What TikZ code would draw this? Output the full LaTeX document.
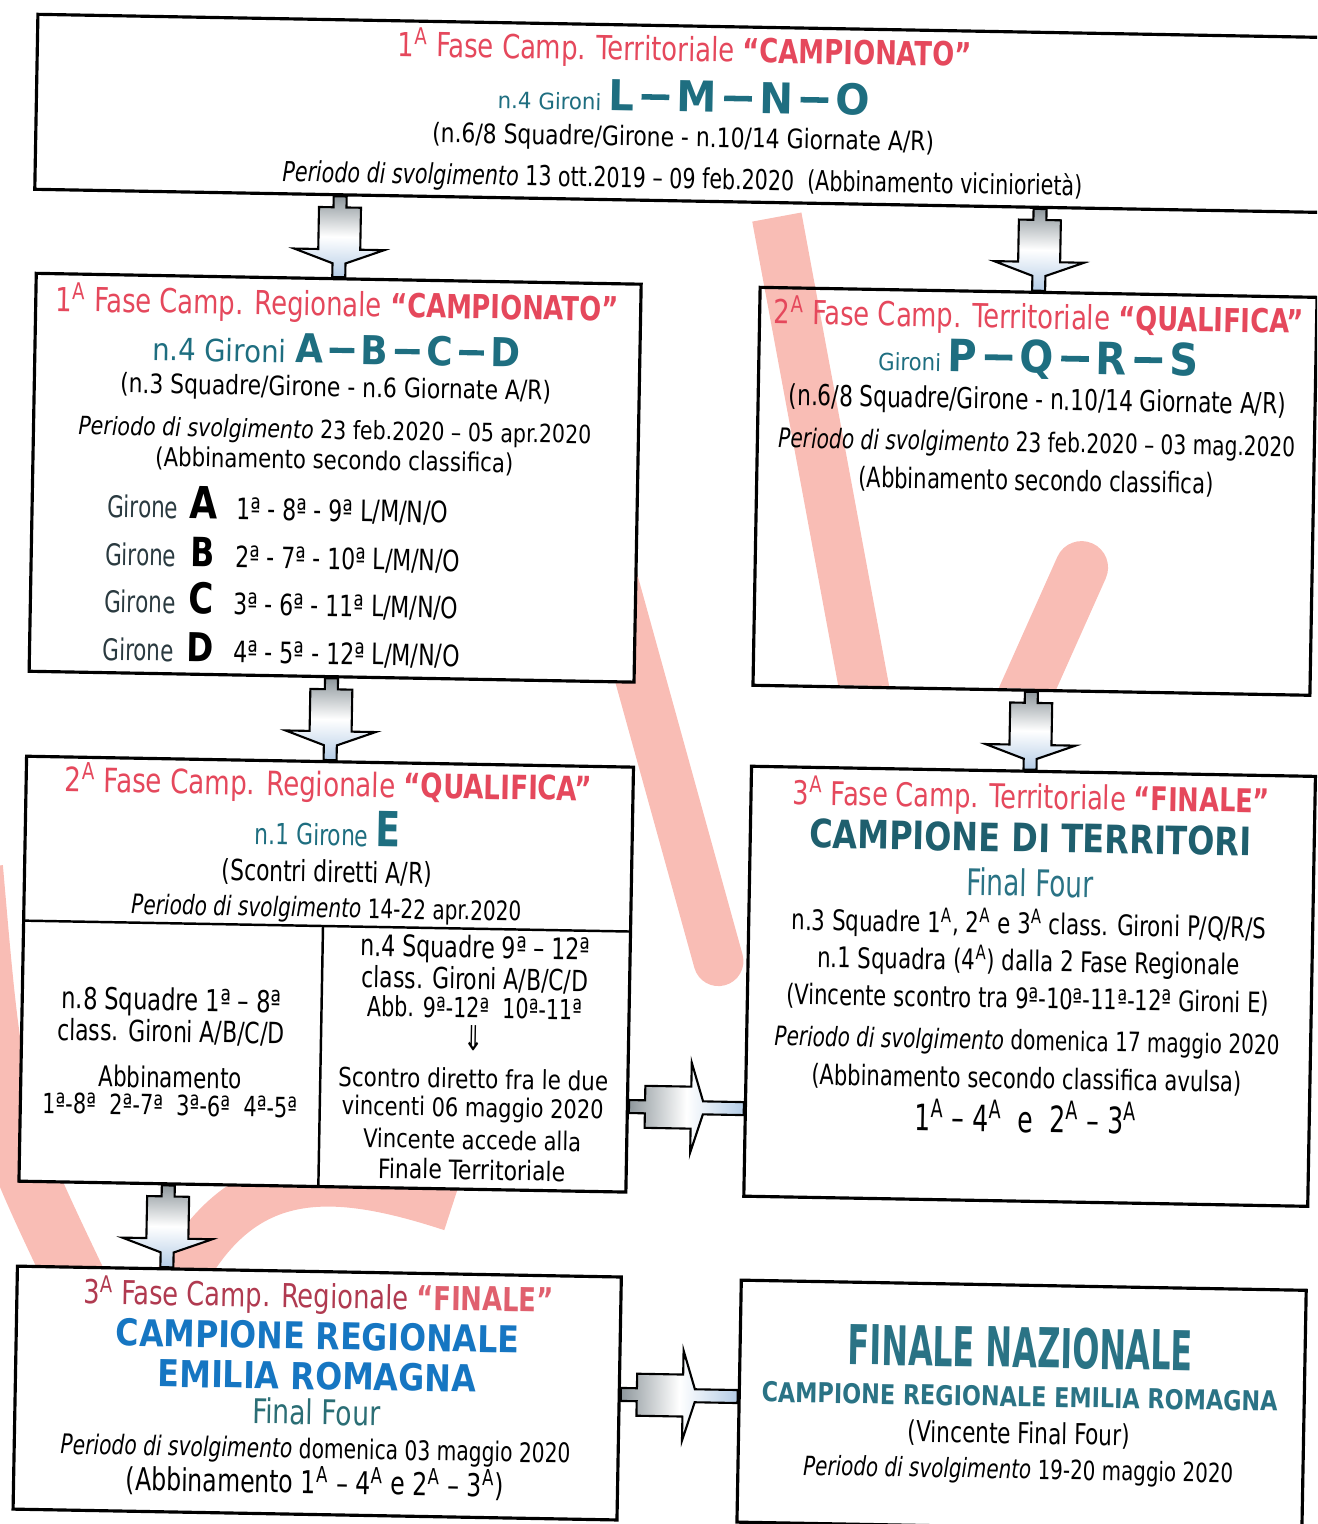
\documentclass[tikz,border=0pt]{standalone}
\usepackage{fontspec}
\setmainfont{DejaVu Sans Condensed}[BoldFont={DejaVu Sans Condensed Bold},ItalicFont={DejaVu Sans Condensed Oblique},BoldItalicFont={DejaVu Sans Condensed Bold Oblique}]
\usetikzlibrary{calc,positioning}

\definecolor{titred}{HTML}{E5485C}
\definecolor{darkred}{HTML}{B03A50}
\definecolor{finpink}{HTML}{E0606E}
\definecolor{tealA}{HTML}{1E6E80}
\definecolor{tealB}{HTML}{1F5F6E}
\definecolor{tealC}{HTML}{2A7385}
\definecolor{tealD}{HTML}{2B6E75}
\definecolor{regblue}{HTML}{1676C2}
\definecolor{gironecol}{HTML}{2A3A40}
\definecolor{arrgrey}{HTML}{8E979C}
\definecolor{arrblue}{HTML}{B4CCE6}
\definecolor{wmpink}{HTML}{F9BDB5}

\newlength\pxu
\setlength\pxu{0.1mm}
% width in px, optional vertical stretch
\newcommand{\fitw}[3][1.2]{\resizebox{#2\pxu}{!}{\scalebox{1}[#1]{#3}}}
\newcommand{\supA}{\textsuperscript{A}}
\newcommand{\svolg}{\textit{Periodo di svolgimento}}
\newcommand{\bdash}{\,\rule[0.27em]{0.62em}{0.13em}\,}

\tikzset{
  box/.style={draw=black, line width=0.9pt, fill=white, anchor=north west, inner sep=0pt},
  txt/.style={inner sep=0pt},
  wm/.style={draw=wmpink, line width=5mm},
  downarr/.style={draw=black, line width=0.6pt, top color=arrgrey, bottom color=arrblue, middle color=white,
    to path={($(\tikztostart)+(-6.5,0)$) -- ($(\tikztostart)+(-6.5,11)$) -- ($(\tikztostart)+(-21,11)$)
      -- ($(\tikztostart)+(-21,53)$) -- ($(\tikztostart)+(-45,53)$) -- ($(\tikztostart)+(-6.5,67)$)
      -- ($(\tikztostart |- \tikztotarget)+(-6.5,0)$) -- ($(\tikztostart |- \tikztotarget)+(6.5,0)$)
      -- ($(\tikztostart)+(6.5,67)$) -- ($(\tikztostart)+(45,53)$) -- ($(\tikztostart)+(21,53)$)
      -- ($(\tikztostart)+(21,11)$) -- ($(\tikztostart)+(6.5,11)$) -- ($(\tikztostart)+(6.5,0)$) -- cycle}},
  rightarr/.style={draw=black, line width=0.6pt, left color=arrgrey, right color=arrblue, middle color=white,
    to path={($(\tikztostart)+(0,-6.5)$) -- ($(\tikztostart)+(16,-6.5)$) -- ($(\tikztostart)+(16,-21)$)
      -- ($(\tikztostart)+(62,-21)$) -- ($(\tikztostart)+(62,-45)$) -- ($(\tikztostart)+(74,-6.5)$)
      -- ($(\tikztostart -| \tikztotarget)+(0,-6.5)$) -- ($(\tikztostart -| \tikztotarget)+(0,6.5)$)
      -- ($(\tikztostart)+(74,6.5)$) -- ($(\tikztostart)+(62,45)$) -- ($(\tikztostart)+(62,21)$)
      -- ($(\tikztostart)+(16,21)$) -- ($(\tikztostart)+(16,6.5)$) -- ($(\tikztostart)+(0,6.5)$) -- cycle}}
}

\begin{document}
\begin{tikzpicture}[x=0.1mm, y=-0.1mm]
  \useasboundingbox (0,0) rectangle (1317,1524);
  \clip (0,0) rectangle (1317,1524);
  \begin{scope}[transform canvas={rotate around={-1.03:(658,762)}}]

  % watermark
  \draw[wm, line cap=round] (562,420) -- (722,960);
  \begin{scope}
    \clip (700,200) rectangle (1310,682);
    \draw[wm] (767,215) -- (870,720);
    \draw[wm, line width=5.3mm, line cap=round] (1078,560) -- (1010,720);
  \end{scope}
  \draw[wm, line width=6mm] (-25,880) .. controls (0,1120) .. (90,1300);
  \draw[wm] (175,1320) .. controls (235,1170) and (330,1170) .. (460,1210);

  % boxes
  \node[box, minimum width=132mm, minimum height=17.5mm] (top) at (23,24) {};
  \node[box, minimum width=60.5mm, minimum height=39.8mm] (regA) at (26,283) {};
  \node[box, fill=none, minimum width=55.7mm, minimum height=39.8mm] (terQ) at (750,284) {};
  \node[box, minimum width=60.7mm, minimum height=42.5mm] (regQ) at (25,766) {};
  \node[box, minimum width=56.4mm, minimum height=43mm] (terF) at (750,763) {};
  \node[box, minimum width=60.4mm, minimum height=24.3mm] (regF) at (25,1276) {};
  \node[box, minimum width=56.5mm, minimum height=24.2mm] (naz) at (749,1277) {};
  \draw[line width=0.7pt] (25,932) -- (632,932);
  \draw[line width=0.7pt] (326,932) -- (326,1191);

  % top box
  \node[txt] (t1a) at (672,50) {\fitw[1.15]{574}{\color{titred}1\supA{} Fase Camp. Territoriale \textbf{“CAMPIONATO”}}};
  \node[txt] (t1b) at (672,96) {\fitw[0.95]{372}{\color{tealA}\fontsize{9}{9}\selectfont n.4 Gironi \fontsize{17}{17}\selectfont\bfseries L\bdash M\bdash N\bdash O}};
  \node[txt] (t1c) at (672,139) {\fitw[1.1]{502}{(n.6/8 Squadre/Girone - n.10/14 Giornate A/R)}};
  \node[txt] (t1d) at (672,180) {\fitw{800}{\svolg{} 13 ott.2019 – 09 feb.2020 \ (Abbinamento viciniorietà)}};

  % 1a fase regionale
  \node[txt] (t2a) at (329,311) {\fitw[1.15]{563}{\color{titred}1\supA{} Fase Camp. Regionale \textbf{“CAMPIONATO”}}};
  \node[txt] (t2b) at (329,355) {\fitw[1.0]{368}{\color{tealA}\fontsize{10}{10}\selectfont n.4 Gironi \fontsize{13}{13}\selectfont\bfseries A\bdash B\bdash C\bdash D}};
  \node[txt] (t2c) at (329,395) {\fitw[1.1]{431}{(n.3 Squadre/Girone - n.6 Giornate A/R)}};
  \node[txt] (t2d) at (329,438) {\fitw[1.1]{513}{\svolg{} 23 feb.2020 – 05 apr.2020}};
  \node[txt] (t2e) at (329,467) {\fitw[1.1]{358}{(Abbinamento secondo classifica)}};
  \node[txt, anchor=base west] (gA) at (102,527) {\fitw[1.25]{71}{\color{gironecol}Girone}};
  \node[txt, anchor=base] (lA) at (199,527) {\fitw[1.1]{28}{\bfseries A}};
  \node[txt, anchor=base west] (nA) at (231,527) {\fitw{212}{1ª - 8ª - 9ª L/M/N/O}};
  \node[txt, anchor=base west] (gB) at (101,575) {\fitw[1.25]{71}{\color{gironecol}Girone}};
  \node[txt, anchor=base] (lB) at (199,575) {\fitw[1.15]{24}{\bfseries B}};
  \node[txt, anchor=base west] (nB) at (231,575) {\fitw{225}{2ª - 7ª - 10ª L/M/N/O}};
  \node[txt, anchor=base west] (gC) at (101,622) {\fitw[1.25]{71}{\color{gironecol}Girone}};
  \node[txt, anchor=base] (lC) at (198,622) {\fitw[1.12]{25}{\bfseries C}};
  \node[txt, anchor=base west] (nC) at (230,622) {\fitw{225}{3ª - 6ª - 11ª L/M/N/O}};
  \node[txt, anchor=base west] (gD) at (100,670) {\fitw[1.25]{71}{\color{gironecol}Girone}};
  \node[txt, anchor=base] (lD) at (198,670) {\fitw[1.1]{27}{\bfseries D}};
  \node[txt, anchor=base west] (nD) at (231,670) {\fitw{226}{4ª - 5ª - 12ª L/M/N/O}};

  % 2a fase territoriale
  \node[txt] (t3a) at (1031,311) {\fitw[1.15]{530}{\color{titred}2\supA{} Fase Camp. Territoriale \textbf{“QUALIFICA”}}};
  \node[txt] (t3b) at (1031,353) {\fitw[1.0]{320}{\color{tealA}\fontsize{8.5}{8.5}\selectfont Gironi \fontsize{16}{16}\selectfont\bfseries P\bdash Q\bdash R\bdash S}};
  \node[txt] (t3c) at (1031,395) {\fitw{497}{(n.6/8 Squadre/Girone - n.10/14 Giornate A/R)}};
  \node[txt] (t3d) at (1031,438) {\fitw{517}{\svolg{} 23 feb.2020 – 03 mag.2020}};
  \node[txt] (t3e) at (1031,475) {\fitw{355}{(Abbinamento secondo classifica)}};

  % 2a fase regionale
  \node[txt] (t4a) at (329,791) {\fitw[1.15]{527}{\color{titred}2\supA{} Fase Camp. Regionale \textbf{“QUALIFICA”}}};
  \node[txt] (t4b) at (329,834) {\fitw{145}{\color{tealA}\fontsize{9}{9}\selectfont n.1 Girone \fontsize{15}{15}\selectfont\bfseries E}};
  \node[txt] (t4c) at (329,879) {\fitw{210}{(Scontri diretti A/R)}};
  \node[txt] (t4d) at (329,916) {\fitw{390}{\svolg{} 14-22 apr.2020}};
  \node[txt] (t4e) at (176,1011) {\fitw{220}{n.8 Squadre 1ª – 8ª}};
  \node[txt] (t4f) at (176,1041) {\fitw{227}{class. Gironi A/B/C/D}};
  \node[txt] (t4g) at (176,1086) {\fitw{143}{Abbinamento}};
  \node[txt] (t4h) at (176,1114) {\fitw{255}{1ª-8ª\ \ 2ª-7ª\ \ 3ª-6ª\ \ 4ª-5ª}};
  \node[txt] (t4i) at (479,953) {\fitw{230}{n.4 Squadre 9ª – 12ª}};
  \node[txt] (t4j) at (479,983) {\fitw{226}{class. Gironi A/B/C/D}};
  \node[txt] (t4k) at (479,1011) {\fitw{215}{Abb. 9ª-12ª\ \ 10ª-11ª}};
  \node[txt] (t4l) at (479,1041) {\fitw[1.3]{20}{⇓}};
  \node[txt] (t4m) at (479,1082) {\fitw[1.1]{270}{Scontro diretto fra le due}};
  \node[txt] (t4n) at (479,1113) {\fitw[1.1]{262}{vincenti 06 maggio 2020}};
  \node[txt] (t4o) at (479,1143) {\fitw[1.1]{218}{Vincente accede alla}};
  \node[txt] (t4p) at (479,1173) {\fitw[1.1]{187}{Finale Territoriale}};

  % 3a fase territoriale
  \node[txt] (t5a) at (1032,791) {\fitw[1.15]{477}{\color{titred}3\supA{} Fase Camp. Territoriale \textbf{“FINALE”}}};
  \node[txt] (t5b) at (1032,831) {\fitw[1.1]{442}{\color{tealB}\bfseries CAMPIONE DI TERRITORI}};
  \node[txt] (t5c) at (1032,876) {\fitw[1.25]{127}{\color{tealC}Final Four}};
  \node[txt] (t5d) at (1032,918) {\fitw{475}{n.3 Squadre 1\supA, 2\supA{} e 3\supA{} class. Gironi P/Q/R/S}};
  \node[txt] (t5e) at (1032,955) {\fitw{422}{n.1 Squadra (4\supA) dalla 2 Fase Regionale}};
  \node[txt] (t5f) at (1032,993) {\fitw{483}{(Vincente scontro tra 9ª-10ª-11ª-12ª Gironi E)}};
  \node[txt] (t5g) at (1032,1036) {\fitw{505}{\svolg{} domenica 17 maggio 2020}};
  \node[txt] (t5h) at (1032,1073) {\fitw{430}{(Abbinamento secondo classifica avulsa)}};
  \node[txt] (t5i) at (1032,1110) {\fitw[1.3]{222}{1\supA{} – 4\supA{}\ \ e\ \ 2\supA{} – 3\supA}};

  % 3a fase regionale
  \node[txt] (t6a) at (328,1303) {\fitw[1.15]{470}{\color{darkred}3\supA{} Fase Camp. Regionale \textcolor{finpink}{\textbf{“FINALE”}}}};
  \node[txt] (t6b) at (328,1342) {\fitw[1.05]{403}{\color{regblue}\bfseries CAMPIONE REGIONALE}};
  \node[txt] (t6c) at (328,1382) {\fitw[1.05]{318}{\color{regblue}\bfseries EMILIA ROMAGNA}};
  \node[txt] (t6d) at (328,1418) {\fitw[1.15]{128}{\color{tealD}Final Four}};
  \node[txt] (t6e) at (328,1457) {\fitw{510}{\svolg{} domenica 03 maggio 2020}};
  \node[txt] (t6f) at (328,1488) {\fitw{378}{(Abbinamento 1\supA{} – 4\supA{} e 2\supA{} – 3\supA)}};

  % finale nazionale
  \node[txt] (t7a) at (1031,1341) {\fitw[1.55]{345}{\color{tealC}\bfseries FINALE NAZIONALE}};
  \node[txt] (t7b) at (1031,1390) {\fitw[1.1]{516}{\color{tealC}\bfseries CAMPIONE REGIONALE EMILIA ROMAGNA}};
  \node[txt] (t7c) at (1031,1428) {\fitw{222}{(Vincente Final Four)}};
  \node[txt] (t7d) at (1031,1465) {\fitw{430}{\svolg{} 19-20 maggio 2020}};

  % arrows
  \coordinate (a1) at (top.south -| regA.north);
  \coordinate (b1) at (top.south -| terQ.north);
  \coordinate (e1) at ($(regQ.north east)+(0,341)$);
  \coordinate (e2) at (e1 -| terF.west);
  \coordinate (f1) at ($(regQ.south west)+(151,0)$);
  \coordinate (g1) at ($(regF.north east)+(0,119)$);
  \coordinate (g2) at (g1 -| naz.west);
  \draw[downarr] (a1) to (regA.north);
  \draw[downarr] (b1) to (terQ.north);
  \draw[downarr] (regA.south) to (regQ.north);
  \draw[downarr] (terQ.south) to (terF.north);
  \draw[downarr] (f1) to (regF.north);
  \draw[rightarr] (e1) to (e2);
  \draw[rightarr] (g1) to (g2);
  \end{scope}
\end{tikzpicture}
\end{document}
